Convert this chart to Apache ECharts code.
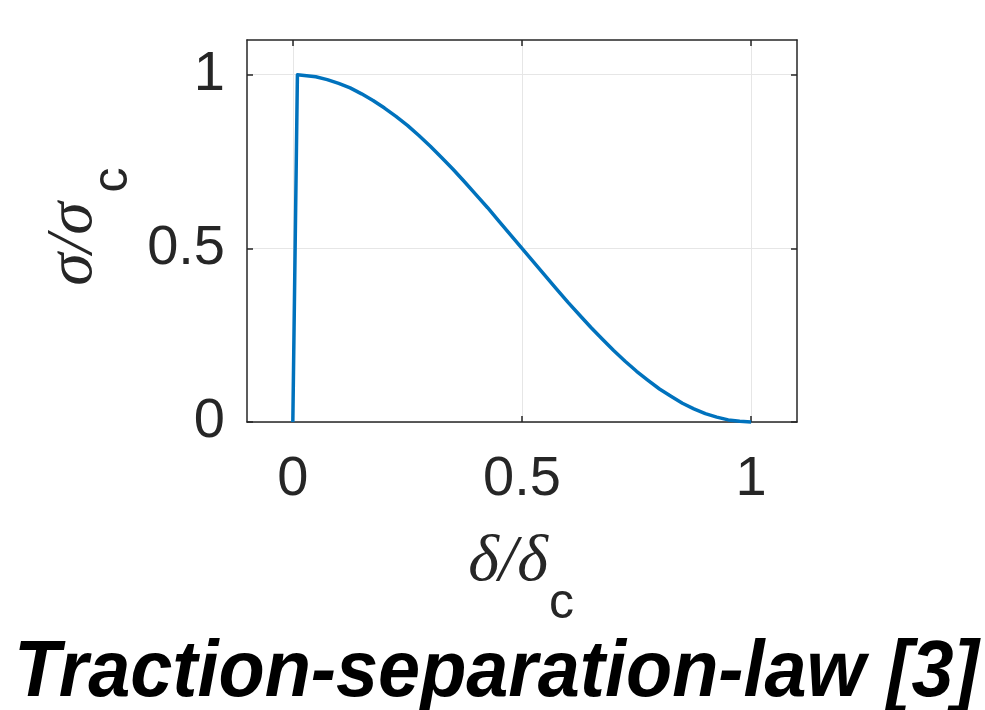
<!DOCTYPE html>
<html>
<head>
<meta charset="utf-8">
<script src="https://cdn.jsdelivr.net/npm/echarts@6/dist/echarts.min.js"></script>
<style>
html,body{margin:0;padding:0;background:#fff;}
#chart{width:985px;height:710px;}
</style>
</head>
<body>
<div id="chart"></div>
<script>
// Data
const deltaValues = [0, 0.01, 0.025, 0.05, 0.075, 0.1, 0.125, 0.15, 0.175, 0.2, 0.225, 0.25, 0.275, 0.3, 0.325, 0.35, 0.375, 0.4, 0.425, 0.45, 0.475, 0.5, 0.525, 0.55, 0.575, 0.6, 0.625, 0.65, 0.675, 0.7, 0.725, 0.75, 0.775, 0.8, 0.825, 0.85, 0.875, 0.9, 0.925, 0.95, 0.975, 1.0];
const sigmaValues = [0, 1.0, 0.998, 0.994, 0.986, 0.975, 0.962, 0.945, 0.926, 0.904, 0.880, 0.854, 0.825, 0.794, 0.761, 0.727, 0.691, 0.654, 0.617, 0.578, 0.539, 0.5, 0.461, 0.422, 0.383, 0.345, 0.309, 0.273, 0.239, 0.206, 0.175, 0.146, 0.120, 0.095, 0.074, 0.054, 0.038, 0.024, 0.014, 0.006, 0.002, 0];
const xTicks = [0, 0.5, 1];
const yTicks = [0, 0.5, 1];
const xTickLabels = ['0', '0.5', '1'];
const yTickLabels = ['0', '0.5', '1'];
const titleText = 'Traction-separation-law [3]';

const seriesData = deltaValues.map((d, i) => [d, sigmaValues[i]]);
const axisColor = '#262626';
const gridColor = '#e6e6e6';
const fmt = (list, labels) => v => { const i = list.findIndex(t => Math.abs(t - v) < 1e-9); return i >= 0 ? labels[i] : ''; };

const chart = echarts.init(document.getElementById('chart'), null, {renderer: 'canvas'});
const baseAxis = {
  axisLine: {show: true, onZero: false, lineStyle: {color: axisColor, width: 1.5}},
  axisTick: {show: true, inside: true, length: 6, lineStyle: {color: axisColor, width: 1.5}},
  splitLine: {show: false}
};
chart.setOption({
  animation: false,
  backgroundColor: '#ffffff',
  grid: {left: 247, top: 40, right: 188, bottom: 288, containLabel: false},
  xAxis: [
    Object.assign({}, baseAxis, {
      type: 'value', min: -0.1, max: 1.1, position: 'bottom',
      axisTick: Object.assign({}, baseAxis.axisTick, {customValues: xTicks}),
      splitLine: {show: true, lineStyle: {color: gridColor, width: 1}},
      axisLabel: {show: true, customValues: xTicks, formatter: fmt(xTicks, xTickLabels), margin: 30, color: axisColor, fontSize: 56, fontFamily: 'Liberation Sans'}
    }),
    Object.assign({}, baseAxis, {
      type: 'value', min: -0.1, max: 1.1, position: 'top',
      axisTick: Object.assign({}, baseAxis.axisTick, {customValues: xTicks}),
      axisLabel: {show: false}
    })
  ],
  yAxis: [
    Object.assign({}, baseAxis, {
      type: 'value', min: 0, max: 1.1, position: 'left',
      axisTick: Object.assign({}, baseAxis.axisTick, {customValues: yTicks}),
      splitLine: {show: true, lineStyle: {color: gridColor, width: 1}},
      axisLabel: {show: true, customValues: yTicks, formatter: fmt(yTicks, yTickLabels), margin: 22, color: axisColor, fontSize: 56, fontFamily: 'Liberation Sans'}
    }),
    Object.assign({}, baseAxis, {
      type: 'value', min: 0, max: 1.1, position: 'right',
      axisTick: Object.assign({}, baseAxis.axisTick, {customValues: yTicks}),
      axisLabel: {show: false}
    })
  ],
  series: [{
    type: 'line',
    data: seriesData,
    showSymbol: false,
    symbol: 'none',
    clip: false,
    lineStyle: {color: '#0072BD', width: 3.5, join: 'round'},
    xAxisIndex: 0, yAxisIndex: 0
  }],
  graphic: [
    {type: 'text', x: 508, y: 563, style: {text: 'δ/δ', fill: axisColor, font: 'italic 66px "Liberation Serif"', textAlign: 'center', textVerticalAlign: 'middle'}},
    {type: 'text', x: 549, y: 604, style: {text: 'c', fill: axisColor, font: '50px "Liberation Sans"', textAlign: 'left', textVerticalAlign: 'middle'}},
    {type: 'text', x: 74, y: 244, rotation: Math.PI / 2, style: {text: 'σ/σ', fill: axisColor, font: 'italic 66px "Liberation Serif"', textAlign: 'center', textVerticalAlign: 'middle'}},
    {type: 'text', x: 113, y: 180, rotation: Math.PI / 2, style: {text: 'c', fill: axisColor, font: '50px "Liberation Sans"', textAlign: 'center', textVerticalAlign: 'middle'}},
    {type: 'text', x: 14, y: 674, scaleX: 0.945, style: {text: titleText, fill: '#000000', font: 'italic bold 80px "Liberation Sans"', textAlign: 'left', textVerticalAlign: 'middle'}}
  ]
});
</script>
</body>
</html>
